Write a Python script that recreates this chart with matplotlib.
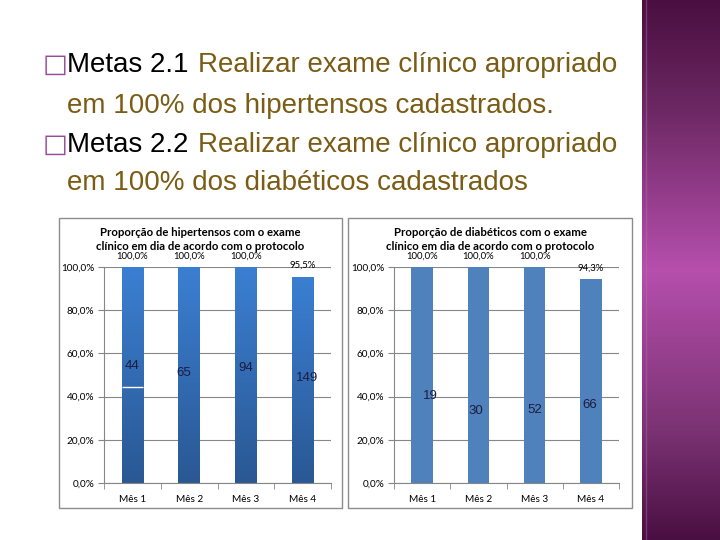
import numpy as np
import matplotlib.pyplot as plt
from matplotlib.colors import LinearSegmentedColormap
from matplotlib.patches import Rectangle

# dados
meses = ['Mês 1', 'Mês 2', 'Mês 3', 'Mês 4']
hipertensos = [1.0, 1.0, 1.0, 0.955]
hipert_rotulos = ['100,0%', '100,0%', '100,0%', '95,5%']
hipert_n = ['44', '65', '94', '149']
diabeticos = [1.0, 1.0, 1.0, 0.943]
diab_rotulos = ['100,0%', '100,0%', '100,0%', '94,3%']
diab_n = ['19', '30', '52', '66']
yticks = [0, 0.2, 0.4, 0.6, 0.8, 1.0]
ytick_labels = ['0,0%', '20,0%', '40,0%', '60,0%', '80,0%', '100,0%']

# onde ficam os números dentro das barras (posição livre no slide original)
hipert_n_pos = [(0.0, 0.542), (-0.1, 0.509), (0.0, 0.532), (0.08, 0.486)]
diab_n_pos = [(0.15, 0.403), (-0.05, 0.333), (0.0, 0.338), (-0.02, 0.361)]

CHART_FONT = 'Lato'
TXT_FONT = 'Liberation Sans'

fig = plt.figure(figsize=(7.2, 5.4), dpi=100)
fig.patch.set_facecolor('white')

# faixa roxa à direita
strip = fig.add_axes([642 / 720, 0, 78 / 720, 1])
cmap = LinearSegmentedColormap.from_list('roxo', [
    (0.0, '#4a0f40'), (0.2, '#6c2863'), (0.5, '#b64fad'),
    (0.8, '#7a3272'), (1.0, '#4a0f42')])
grad = np.linspace(0, 1, 256).reshape(-1, 1)
strip.imshow(grad, aspect='auto', cmap=cmap, extent=[0, 1, 0, 1])
strip.axvline(0.05, color='#c070b8', lw=1, alpha=0.4)
strip.set_axis_off()

# texto do slide
lines = [
    (65, True, 'Metas 2.1', 'Realizar exame clínico apropriado'),
    (106, False, '', 'em 100% dos hipertensos cadastrados.'),
    (145, True, 'Metas 2.2', 'Realizar exame clínico apropriado'),
    (183, False, '', 'em 100% dos diabéticos cadastrados'),
]
for y, bullet, preto, resto in lines:
    yf = 1 - y / 540
    if bullet:
        fig.text(43 / 720, yf, '□', fontsize=19, color='#9a4a98',
                 family='DejaVu Sans', va='center', ha='left')
        fig.text(67 / 720, yf, preto, fontsize=20, color='black',
                 family=TXT_FONT, va='center', ha='left')
        fig.text(198 / 720, yf, resto, fontsize=20, color='#7a5c14',
                 family=TXT_FONT, va='center', ha='left')
    else:
        fig.text(67 / 720, yf, resto, fontsize=20, color='#7a5c14',
                 family=TXT_FONT, va='center', ha='left')

# molduras dos gráficos
for x0, x1 in [(59, 342), (348, 632)]:
    fig.patches.append(Rectangle((x0 / 720, 32 / 540), (x1 - x0) / 720, 290 / 540,
                                 transform=fig.transFigure, fill=False,
                                 edgecolor='#8c8c8c', lw=1))


def grafico(ax, valores, rotulos, nums, num_pos, titulo, cx, gradiente):
    x = np.arange(len(meses))
    bars = ax.bar(x, valores, width=0.38, color='#4f81bd', zorder=2)
    if gradiente:
        cm = LinearSegmentedColormap.from_list('azul', ['#2a5894', '#3b7fd2'])
        for b in bars:
            b.set_facecolor('none')
            im = ax.imshow(np.linspace(0, 1, 100).reshape(-1, 1), cmap=cm,
                           origin='lower', aspect='auto', zorder=2,
                           extent=[b.get_x(), b.get_x() + b.get_width(), 0, b.get_height()])
            im.set_clip_path(b)
    ax.set_xlim(-0.5, len(meses) - 0.5)
    ax.set_ylim(0, 1)
    ax.set_yticks(yticks)
    ax.set_yticklabels(ytick_labels, family=CHART_FONT, fontsize=7.2)
    ax.set_xticks(x)
    ax.set_xticklabels(meses, family=CHART_FONT, fontsize=7.2)
    ax.set_xticks(np.arange(-0.5, len(meses), 1), minor=True)
    ax.tick_params(axis='x', which='major', length=0, pad=9)
    ax.tick_params(axis='x', which='minor', length=4, color='#868686')
    ax.tick_params(axis='y', length=4, color='#868686', pad=3)
    ax.grid(axis='y', color='#868686', lw=0.8, zorder=0)
    for s in ['top', 'right']:
        ax.spines[s].set_visible(False)
    for s in ['left', 'bottom']:
        ax.spines[s].set_color('#868686')
    for xi, v, r in zip(x, valores, rotulos):
        ax.text(xi, v + 0.052, r, ha='center', va='center', fontsize=6.8,
                family=CHART_FONT, clip_on=False)
    for xi, n, (dx, yy) in zip(x, nums, num_pos):
        ax.text(xi + dx, yy, n, ha='center', va='center', fontsize=9.5,
                family=TXT_FONT, color='#1c1c40', zorder=3)
    fig.text(cx / 720, 1 - 239.5 / 540, titulo, ha='center', va='center',
             fontsize=8.2, family=CHART_FONT, fontweight='bold', linespacing=1.3)
    return bars


ax1 = fig.add_axes([104 / 720, 57 / 540, 227 / 720, 216 / 540])
ax1.patch.set_alpha(0)
b1 = grafico(ax1, hipertensos, hipert_rotulos, hipert_n, hipert_n_pos,
             'Proporção de hipertensos com o exame\nclínico em dia de acordo com o protocolo',
             200, True)
# linha branca na primeira barra (como no original)
ax1.hlines(0.444, b1[0].get_x(), b1[0].get_x() + b1[0].get_width(),
           color='white', lw=1, zorder=3)

ax2 = fig.add_axes([394 / 720, 57 / 540, 225 / 720, 216 / 540])
ax2.patch.set_alpha(0)
grafico(ax2, diabeticos, diab_rotulos, diab_n, diab_n_pos,
        'Proporção de diabéticos com o exame\nclínico em dia de acordo com o protocolo',
        490, False)

fig.savefig('out.png', dpi=100)
